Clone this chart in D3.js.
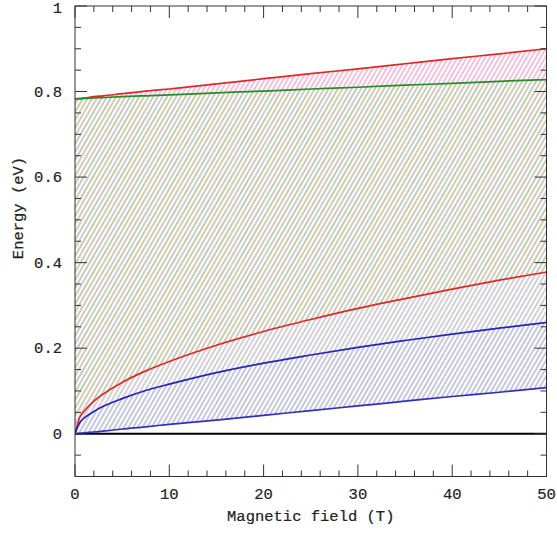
<!DOCTYPE html>
<html><head><meta charset="utf-8">
<script src="https://cdn.jsdelivr.net/npm/d3@7"></script>
<style>body{margin:0;background:#fff}svg{display:block}text{font-family:"Liberation Mono",monospace;fill:#222;stroke:#222;stroke-width:0.2px}</style>
</head><body>
<svg id="c" width="557" height="534"></svg>
<script>
const fieldB = [0, 0.5, 1, 2, 3, 5, 7.5, 10, 15, 20, 25, 30, 35, 40, 45, 50];
const redUpper = [0.783, 0.784, 0.785, 0.788, 0.790, 0.795, 0.801, 0.806, 0.818, 0.830, 0.842, 0.853, 0.865, 0.877, 0.888, 0.900];
const greenUpper = [0.783, 0.783, 0.784, 0.785, 0.786, 0.788, 0.790, 0.792, 0.797, 0.801, 0.806, 0.810, 0.815, 0.819, 0.824, 0.828];
const redLower = [0, 0.038, 0.053, 0.076, 0.093, 0.120, 0.147, 0.169, 0.207, 0.239, 0.267, 0.293, 0.316, 0.338, 0.359, 0.378];
const blueUpper = [0, 0.026, 0.037, 0.052, 0.064, 0.082, 0.101, 0.116, 0.143, 0.165, 0.184, 0.202, 0.218, 0.233, 0.247, 0.260];
const blueLower = [0, 0.001, 0.002, 0.004, 0.006, 0.011, 0.016, 0.022, 0.032, 0.043, 0.054, 0.065, 0.076, 0.087, 0.097, 0.108];
const xTicks = [0, 10, 20, 30, 40, 50];
const yTicks = [0, 0.2, 0.4, 0.6, 0.8, 1];
const xLabel = "Magnetic field (T)";
const yLabel = "Energy (eV)";

const svg = d3.select("#c");
const L = 75, R = 546.5, T = 6, B = 476.5;
const x = d3.scaleLinear().domain([0, 50]).range([L, R]);
const y = d3.scaleLinear().domain([-0.1, 1]).range([B, T]);

const defs = svg.append("defs");
function hatch(id, colors, w) {
  const n = colors.length, s = 4;
  const p = defs.append("pattern").attr("id", id).attr("patternUnits", "userSpaceOnUse")
    .attr("width", s * n).attr("height", 10).attr("patternTransform", "rotate(30)");
  colors.forEach((c, i) => p.append("line").attr("x1", i * s + 1).attr("x2", i * s + 1)
    .attr("y1", -1).attr("y2", 11).attr("stroke", c).attr("stroke-width", w));
}
hatch("hPink", ["#e8a0c8"], 1.3);
hatch("hOlive", ["#b2c292", "#ccbca2", "#b6c698", "#d0b6bc", "#b4c296", "#bcc0c8"], 1.6);
hatch("hGray", ["#b8b8c0"], 1.3);
hatch("hBlue", ["#a8a8cc"], 1.3);

svg.append("clipPath").attr("id", "plot").append("rect").attr("x", L).attr("y", T).attr("width", R - L).attr("height", B - T);
const g = svg.append("g").attr("clip-path", "url(#plot)");

const idx = d3.range(fieldB.length);
function band(lo, hi, fill) {
  g.append("path").attr("fill", `url(#${fill})`).attr("d",
    d3.area().x(i => x(fieldB[i])).y0(i => y(lo[i])).y1(i => y(hi[i])).curve(d3.curveMonotoneX)(idx));
}
band(greenUpper, redUpper, "hPink");
band(redLower, greenUpper, "hOlive");
band(blueUpper, redLower, "hGray");
band(blueLower, blueUpper, "hBlue");

g.append("line").attr("x1", L).attr("x2", R).attr("y1", y(0)).attr("y2", y(0)).attr("stroke", "#000").attr("stroke-width", 2);

function curve(vals, color) {
  g.append("path").attr("fill", "none").attr("stroke", color).attr("stroke-width", 1.7)
    .attr("d", d3.line().x(i => x(fieldB[i])).y(i => y(vals[i])).curve(d3.curveMonotoneX)(idx));
}
curve(redUpper, "#e02828");
curve(greenUpper, "#2a8a2a");
curve(redLower, "#e02828");
curve(blueUpper, "#2424b8");
curve(blueLower, "#3030c0");

const ax = svg.append("g").attr("stroke", "#333").attr("stroke-width", 1).attr("fill", "none");
ax.append("rect").attr("x", L).attr("y", T).attr("width", R - L).attr("height", B - T);
d3.range(0, 50.01, 2).forEach(v => {
  const len = (v % 10 === 0) ? 12 : 6;
  ax.append("line").attr("x1", x(v)).attr("x2", x(v)).attr("y1", B).attr("y2", B - len);
  ax.append("line").attr("x1", x(v)).attr("x2", x(v)).attr("y1", T).attr("y2", T + len);
});
d3.range(-0.1, 1.001, 0.05).forEach(v => {
  const len = (Math.abs(Math.round(v * 100) % 20) === 0) ? 12 : 6;
  ax.append("line").attr("x1", L).attr("x2", L + len).attr("y1", y(v)).attr("y2", y(v));
  ax.append("line").attr("x1", R).attr("x2", R - len).attr("y1", y(v)).attr("y2", y(v));
});

svg.append("g").selectAll("text").data(xTicks).join("text")
  .attr("x", d => x(d)).attr("y", 499).attr("text-anchor", "middle").attr("font-size", 15.5).text(d => d);
svg.append("g").selectAll("text").data(yTicks).join("text")
  .attr("x", 62).attr("y", d => Math.max(y(d) + 5, 13)).attr("text-anchor", "end").attr("font-size", 15.5).text(d => d);
svg.append("text").attr("x", (L + R) / 2).attr("y", 521).attr("text-anchor", "middle").attr("font-size", 15.5).text(xLabel);
svg.append("text").attr("transform", `translate(23,208) rotate(-90)`).attr("text-anchor", "middle").attr("font-size", 15.5).text(yLabel);
</script>
</body></html>
